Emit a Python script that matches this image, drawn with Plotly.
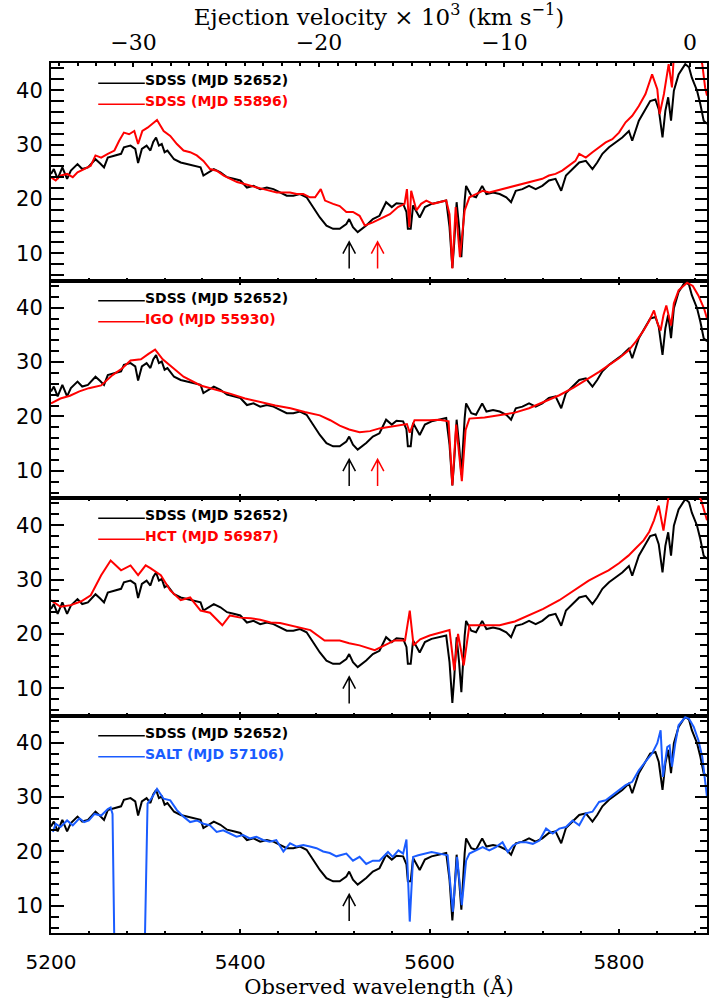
import plotly.graph_objects as go

C_KMS = 299792.458
LAMBDA_ZERO = 5875.0          # observed wavelength of zero ejection velocity
X_MIN, X_MAX = 5200.0, 5893.0
Y_MIN, Y_MAX = 5.0, 45.0

# ---------------- spectra (observed wavelength in Angstrom, flux) ----------------
sdss_52652_wave = [5200, 5203, 5207, 5212, 5217, 5221, 5228, 5233, 5239, 5242, 5247, 5252,
                   5256, 5260, 5267, 5274, 5277, 5284, 5289, 5292, 5296, 5301, 5305, 5308,
                   5311, 5314, 5317, 5320, 5323, 5330, 5337, 5344, 5351, 5358, 5361, 5366,
                   5372, 5379, 5386, 5393, 5400, 5407, 5414, 5421, 5428, 5435, 5442, 5449,
                   5456, 5463, 5470, 5477, 5484, 5491, 5498, 5505, 5512, 5515, 5519, 5524,
                   5533, 5540, 5547, 5554, 5560, 5565, 5572, 5575.5, 5577, 5580, 5582.5,
                   5589.5, 5595, 5602, 5610.5, 5617.5, 5621, 5624, 5626, 5628.5, 5631, 5633.5,
                   5637, 5638.5, 5644, 5649, 5655.5, 5660, 5667, 5674, 5681, 5686, 5691, 5698,
                   5705, 5712, 5719, 5726, 5733, 5739, 5744, 5751, 5758, 5765, 5772, 5777,
                   5782.5, 5789.5, 5796.5, 5803.5, 5810.5, 5814, 5821, 5828, 5833, 5838.5,
                   5842, 5846, 5849, 5852, 5855, 5858, 5863, 5870, 5874, 5877, 5882.5, 5886,
                   5889.5, 5893]
sdss_52652_flux = [24.6, 25.5, 23.7, 25.8, 23.7, 25.2, 26.4, 25.5, 25.8, 26.4, 27.3, 26.5,
                   25.8, 27.6, 28.0, 28.3, 29.5, 29.8, 29.2, 26.6, 29.2, 29.8, 28.9, 30.5,
                   31.3, 29.8, 30.1, 28.6, 28.9, 27.3, 26.7, 26.4, 26.1, 25.8, 24.3, 24.9,
                   25.5, 24.9, 24.0, 23.7, 23.4, 22.1, 22.4, 21.8, 22.1, 21.8, 21.2, 20.6,
                   20.6, 20.9, 20.3, 18.5, 16.6, 15.1, 14.5, 14.5, 15.4, 16.3, 14.8, 13.9,
                   15.1, 16.3, 16.9, 19.4, 18.5, 19.2, 19.1, 17.6, 14.5, 14.5, 18.8,
                   16.6, 18.5, 19.1, 19.4, 19.7, 14.8, 7.3, 12.0, 19.4, 15.0, 9.3,
                   19.7, 22.4, 20.6, 20.3, 22.4, 20.9, 21.2, 20.9, 20.3, 19.4, 21.5, 21.8,
                   22.4, 21.8, 22.4, 23.4, 23.7, 21.5, 24.3, 25.5, 26.7, 27.0, 25.5, 26.7,
                   28.3, 29.5, 30.4, 31.3, 32.5, 30.7, 34.4, 36.5, 38.0, 38.3,
                   36.5, 31.3, 36.2, 38.7, 34.4, 39.9, 42.9, 44.8, 44.2, 42.3, 39.9, 37.4,
                   34.4, 33.8]

sdss_55896_wave = [5200, 5205, 5210, 5217, 5223, 5228, 5235, 5242, 5247, 5253, 5260, 5267,
                   5272, 5277, 5282.5, 5288, 5292, 5296.5, 5302, 5307, 5312, 5319, 5326,
                   5333, 5340, 5347, 5354, 5361, 5368, 5375, 5382.5, 5389.5, 5396.5, 5403.5,
                   5410.5, 5417.5, 5424.5, 5431.5, 5438.5, 5445.5, 5452.5, 5459.5, 5466.5,
                   5473.5, 5479, 5485, 5489.5, 5498, 5505, 5512, 5519, 5526, 5531.5, 5540,
                   5547.5, 5558, 5566.5, 5573.5, 5576, 5578.5, 5580.5, 5586, 5591, 5596.5,
                   5603.5, 5610.5, 5617.5, 5621, 5624, 5627.5, 5632, 5637, 5642, 5649, 5656,
                   5663, 5670, 5677, 5684, 5691, 5698, 5705, 5712, 5719, 5726, 5733, 5740,
                   5747, 5754, 5758, 5765, 5772, 5779, 5786, 5793, 5800, 5807, 5814, 5821,
                   5828, 5835, 5840.5, 5843, 5847.5, 5852.5, 5856, 5858, 5866, 5875, 5884,
                   5888, 5891, 5893]
sdss_55896_flux = [24.0, 23.4, 24.3, 24.6, 24.0, 24.9, 25.5, 26.1, 28.0, 27.6, 28.3, 28.9,
                   30.7, 32.2, 31.9, 32.5, 30.1, 32.5, 33.1, 33.8, 34.5, 32.5, 31.6,
                   30.1, 28.9, 28.6, 28.0, 27.0, 25.5, 25.2, 24.3, 23.7, 23.1, 22.8,
                   22.4, 22.1, 21.8, 21.5, 21.2, 21.2, 21.2, 20.9, 20.9,
                   20.3, 20.3, 21.8, 19.7, 19.1, 18.7, 17.6, 17.6, 16.9, 15.1, 15.7,
                   16.3, 17.2, 18.5, 19.1, 21.8, 14.8, 21.5, 17.9, 19.1, 19.7,
                   19.1, 19.4, 19.7, 17.2, 7.2, 18.5, 9.3, 17.9, 20.3, 20.9, 21.5,
                   21.2, 21.5, 21.8, 22.1, 22.4, 22.8, 23.1, 23.4, 23.7, 24.3, 24.6, 25.2,
                   26.1, 27.0, 28.3, 27.6, 28.6, 29.5, 30.4, 31.0, 32.2, 34.1, 35.3, 37.1,
                   39.3, 42.9, 40.2, 35.6, 39.3, 44.8, 40.5, 46.5, 48.0, 48.5, 47.0,
                   44.8, 40.5, 39.0]

igo_55930_wave = [5200, 5210, 5220, 5230, 5240, 5253, 5265, 5275, 5284, 5295, 5303, 5310,
                  5318, 5326, 5340, 5358, 5375, 5389, 5405, 5421, 5437, 5453, 5468, 5484,
                  5495, 5505, 5515, 5526, 5537, 5547, 5558, 5568, 5576, 5579, 5584, 5600,
                  5610, 5620, 5624, 5628, 5634, 5638, 5642, 5658, 5674, 5690, 5705, 5720,
                  5737, 5752, 5768, 5779, 5789, 5800, 5810, 5818, 5826, 5832, 5837, 5841,
                  5844, 5847, 5850, 5855, 5858, 5863, 5872, 5878, 5884, 5890, 5893]
igo_55930_flux = [22.4, 23.3, 23.8, 24.6, 25.2, 25.7, 27.6, 28.8, 30.3, 30.5, 31.5, 32.3,
                  30.5, 29.4, 27.3, 25.7, 24.9, 24.2, 23.3, 22.6, 22.0, 21.5, 20.8, 20.2,
                  19.3, 18.3, 17.6, 17.1, 17.3, 17.8, 18.1, 18.3, 18.6, 17.0, 19.3, 19.3,
                  19.4, 19.1, 7.3, 18.5, 8.1, 17.5, 19.6, 19.8, 20.2, 20.7, 21.5, 22.6,
                  23.9, 25.3, 27.0, 28.2, 29.4, 30.7, 32.1, 33.8, 35.8, 37.6, 39.5, 37.0,
                  35.8, 38.6, 40.4, 36.7, 40.8, 43.2, 44.6, 44.0, 42.2, 39.8, 38.0]

hct_56987_wave = [5200, 5210, 5221, 5232, 5242, 5253, 5263, 5274, 5284, 5292, 5300, 5305,
                  5316, 5326, 5337, 5347, 5358, 5368, 5381, 5389, 5400, 5411, 5421, 5432,
                  5442, 5453, 5463, 5474, 5489, 5505, 5515, 5526, 5542, 5552, 5563, 5574,
                  5579, 5583, 5590, 5600, 5610, 5621, 5626, 5630, 5636, 5642, 5658, 5674,
                  5690, 5705, 5720, 5737, 5752, 5768, 5779, 5789, 5800, 5810, 5818, 5826,
                  5832, 5837, 5842, 5847, 5853, 5860, 5870, 5880, 5887, 5893]
hct_56987_flux = [26.2, 25.0, 25.3, 26.0, 27.1, 30.8, 33.5, 31.7, 32.6, 30.8, 32.6, 32.1,
                  30.8, 28.0, 26.2, 26.7, 24.3, 23.9, 21.6, 23.4, 23.0, 22.9, 22.6, 22.1,
                  22.0, 21.6, 21.2, 20.7, 18.8, 18.8, 18.3, 17.9, 17.0, 17.8, 18.8, 18.8,
                  24.3, 17.9, 19.0, 19.7, 20.2, 20.7, 13.3, 20.0, 14.2, 21.6, 21.6, 21.6,
                  22.3, 23.4, 24.6, 26.2, 28.0, 29.8, 30.8, 31.7, 33.0, 34.4, 35.8, 37.2,
                  38.8, 40.9, 43.6, 39.0, 46.0, 47.0, 47.5, 47.0, 44.5, 40.9]

salt_57106_wave = [5202, 5205, 5210, 5217, 5223, 5230, 5235, 5240, 5246, 5253, 5260, 5263,
                   5265, 5267, 5299, 5302, 5307, 5312, 5319, 5326, 5333, 5340, 5347, 5354,
                   5361, 5368, 5375, 5382, 5389, 5396, 5403, 5410, 5417, 5424, 5431, 5438,
                   5445.5, 5452.5, 5459.5, 5466.5, 5473.5, 5480.5, 5487.5, 5494.5, 5501.5,
                   5505, 5512, 5519, 5526, 5533, 5540, 5547, 5556, 5561, 5567, 5572, 5575.5,
                   5579, 5582.5, 5588, 5595, 5602, 5610.5, 5619, 5624.5, 5629, 5634, 5638.5,
                   5642, 5649, 5656, 5663, 5670, 5677, 5682.5, 5688, 5695, 5702, 5709, 5716,
                   5723, 5730, 5737, 5744, 5751, 5758, 5765, 5772, 5779, 5786, 5793, 5800,
                   5807, 5814, 5821, 5828, 5835, 5840.5, 5844, 5846.5, 5851, 5853.5, 5856,
                   5859.5, 5863, 5870, 5874, 5879, 5884, 5888, 5891, 5893]
salt_57106_flux = [23.6, 25.1, 24.5, 25.7, 24.8, 26.1, 25.4, 25.7, 26.9, 26.6, 27.8, 28.1,
                   26.9, 2.0, 2.0, 28.8, 30.0, 31.5, 29.7, 29.4, 27.6, 26.4, 25.4, 25.7,
                   25.1, 24.8, 23.6, 23.9, 23.3, 22.7, 23.0, 22.4, 22.7, 22.1, 21.8, 22.1,
                   20.0, 21.5, 20.9, 21.2, 20.9, 20.6, 20.0, 19.7, 19.1,
                   19.3, 19.6, 18.3, 19.0, 17.7, 18.3, 18.3, 19.9, 19.0, 20.2, 19.6, 22.2,
                   7.1, 19.0, 19.3, 19.6, 19.9, 19.6, 19.3, 8.9, 19.0, 10.1, 18.3,
                   19.6, 20.2, 20.8, 20.2, 20.8, 21.7, 19.9, 21.1, 21.7, 21.7, 21.4, 22.0,
                   24.2, 23.3, 24.2, 24.5, 25.7, 24.8, 27.0, 27.3, 29.1, 29.4, 30.3, 31.3,
                   32.2, 32.8, 34.9, 36.5, 38.0, 39.9, 42.3, 33.7, 39.2, 39.5, 35.6,
                   39.9, 43.2, 44.7, 44.4, 42.9, 40.4, 37.4, 33.0, 30.0]

# absorption minima marked in the panels (observed wavelength)
arrow_black_wave = 5515.0
arrow_red_wave = 5545.0

REF_LABEL = "SDSS (MJD 52652)"
panels = [
    dict(label="SDSS (MJD 55896)", color="#ff0000", wave=sdss_55896_wave, flux=sdss_55896_flux,
         arrows=[(arrow_black_wave, "#000000"), (arrow_red_wave, "#ff0000")]),
    dict(label="IGO (MJD 55930)", color="#ff0000", wave=igo_55930_wave, flux=igo_55930_flux,
         arrows=[(arrow_black_wave, "#000000"), (arrow_red_wave, "#ff0000")]),
    dict(label="HCT (MJD 56987)", color="#ff0000", wave=hct_56987_wave, flux=hct_56987_flux,
         arrows=[(arrow_black_wave, "#000000")]),
    dict(label="SALT (MJD 57106)", color="#1a5cff", wave=salt_57106_wave, flux=salt_57106_flux,
         arrows=[(arrow_black_wave, "#000000")]),
]

NUM_FONT = "DejaVu Sans"
SERIF_FONT = "DejaVu Serif"
AXIS_COLOR = "#000000"

fig = go.Figure()
shapes = []
annotations = []
n = len(panels)
for i, p in enumerate(panels):
    k = i + 1
    xa = "x" if k == 1 else f"x{k}"
    ya = "y" if k == 1 else f"y{k}"
    fig.add_trace(go.Scatter(x=sdss_52652_wave, y=sdss_52652_flux, xaxis=xa, yaxis=ya,
                             mode="lines", line=dict(color="#000000", width=2),
                             showlegend=False, hoverinfo="skip"))
    fig.add_trace(go.Scatter(x=p["wave"], y=p["flux"], xaxis=xa, yaxis=ya,
                             mode="lines", line=dict(color=p["color"], width=2),
                             showlegend=False, hoverinfo="skip"))

    # in-panel legend: short line followed by coloured label
    for row, (txt, col) in enumerate([(REF_LABEL, "#000000"), (p["label"], p["color"])]):
        ty = 0.92 - row * 0.097
        shapes.append(dict(type="line", xref=f"{xa} domain", yref=f"{ya} domain",
                           x0=0.072, x1=0.143, y0=ty - 0.013, y1=ty - 0.013,
                           line=dict(color=col, width=1.5)))
        annotations.append(dict(text=txt, xref=f"{xa} domain", yref=f"{ya} domain",
                                x=0.141, y=ty, xanchor="left", yanchor="middle",
                                showarrow=False,
                                font=dict(family=NUM_FONT, size=14, color=col, weight="bold")))

    # velocity markers
    for w, col in p["arrows"]:
        y0, y1, dx, dy = 7.2, 12.1, 6.6, 2.15
        shapes.append(dict(type="path", xref=xa, yref=ya,
                           path=f"M {w},{y0} L {w},{y1} M {w - dx},{y1 - dy} L {w},{y1} L {w + dx},{y1 - dy}",
                           line=dict(color=col, width=1.5)))

    top = 1 - i / n
    bottom = 1 - (i + 1) / n
    fig.layout[f"yaxis{'' if k == 1 else k}"] = dict(
        domain=[bottom, top], anchor=xa, range=[Y_MIN, Y_MAX],
        tickvals=[10, 20, 30, 40], ticks="inside", ticklen=12.5, tickwidth=1.5,
        tickcolor=AXIS_COLOR, minor=dict(dtick=2, tick0=0, ticks="inside", ticklen=7.5,
                                         tickwidth=1.5, tickcolor=AXIS_COLOR),
        showline=True, linecolor=AXIS_COLOR, linewidth=2, mirror="allticks",
        showgrid=False, zeroline=False,
        tickfont=dict(family=NUM_FONT, size=21, color="#000000"), ticklabelstandoff=2)
    xdict = dict(
        domain=[0, 1], anchor=ya, range=[X_MIN, X_MAX],
        tickvals=[5200, 5400, 5600, 5800], ticks="inside", ticklen=4, tickwidth=1.5,
        tickcolor=AXIS_COLOR, minor=dict(dtick=40, tick0=5200, ticks="inside", ticklen=2.5,
                                         tickwidth=1.5, tickcolor=AXIS_COLOR),
        showline=True, linecolor=AXIS_COLOR, linewidth=2,
        mirror=True if k == 1 else "allticks",
        showticklabels=(k == n), showgrid=False, zeroline=False)
    if k > 1:
        xdict["matches"] = "x"
    if k == n:
        xdict.update(
            tickfont=dict(family=NUM_FONT, size=20, color="#000000"), ticklabelstandoff=10,
            title=dict(text="Observed wavelength (Å)",
                       font=dict(family=SERIF_FONT, size=21, color="#000000"), standoff=2))
    fig.layout[f"xaxis{'' if k == 1 else k}"] = xdict

# ejection-velocity axis along the top of the first panel (10^3 km/s)
v_lo = C_KMS * (X_MIN / LAMBDA_ZERO - 1) / 1000
v_hi = C_KMS * (X_MAX / LAMBDA_ZERO - 1) / 1000
fig.add_trace(go.Scatter(x=[v_lo], y=[None], xaxis="x5", yaxis="y", mode="lines",
                         showlegend=False, hoverinfo="skip"))
fig.layout.xaxis5 = dict(
    overlaying="x", side="top", anchor="y", range=[v_lo, v_hi],
    tickvals=[-30, -20, -10, 0], ticks="inside", ticklen=4, tickwidth=1.5, tickcolor=AXIS_COLOR,
    minor=dict(dtick=1, tick0=0, ticks="inside", ticklen=2.5, tickwidth=1.5, tickcolor=AXIS_COLOR),
    showline=True, linecolor=AXIS_COLOR, linewidth=2, showgrid=False, zeroline=False,
    tickfont=dict(family=SERIF_FONT, size=22, color="#000000"), ticklabelstandoff=2,
    title=dict(text="Ejection velocity × 10<sup>3</sup> (km s<sup>−1</sup>)",
               font=dict(family=SERIF_FONT, size=23, color="#000000"), standoff=0))

fig.update_layout(
    width=709, height=999,
    margin=dict(l=51, r=0, t=63, b=66),
    paper_bgcolor="#ffffff", plot_bgcolor="#ffffff",
    shapes=shapes, annotations=annotations, showlegend=False)

fig.write_html("out.html")
